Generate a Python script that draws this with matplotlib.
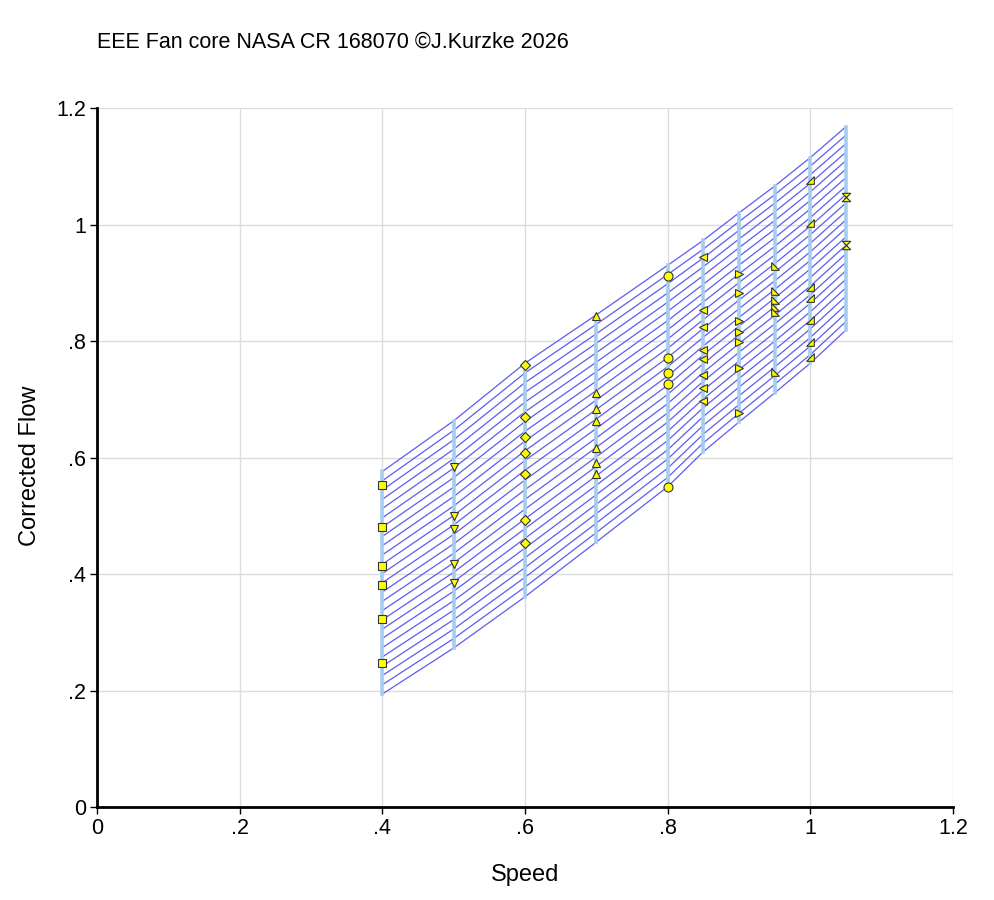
import matplotlib.pyplot as plt
import numpy as np

plt.rcParams['font.family'] = ['Liberation Sans', 'DejaVu Sans']

# speed lines of the map, flow at the lowest and highest beta line
speeds = [0.4, 0.5, 0.6, 0.7, 0.8, 0.85, 0.9, 0.95, 1.0, 1.05]
flow_top = [0.576, 0.663, 0.762, 0.845, 0.930, 0.973, 1.020, 1.066, 1.115, 1.168]
flow_bottom = [0.194, 0.273, 0.361, 0.455, 0.550, 0.610, 0.661, 0.711, 0.762, 0.819]

# beta values of the map grid
beta = [0.0, 0.04167, 0.08333, 0.125, 0.16667, 0.20833, 0.25, 0.29167, 0.33333,
        0.375, 0.41667, 0.45833, 0.5, 0.54167, 0.58333, 0.625, 0.66667, 0.70833,
        0.75, 0.79167, 0.83333, 0.875, 0.91667, 0.95833, 1.0]

# measured points per speed
meas_flow = {
    0.4: [0.552, 0.481, 0.414, 0.382, 0.322, 0.248],
    0.5: [0.584, 0.500, 0.478, 0.418, 0.385],
    0.6: [0.758, 0.669, 0.635, 0.607, 0.572, 0.492, 0.454],
    0.7: [0.843, 0.710, 0.683, 0.662, 0.616, 0.591, 0.572],
    0.8: [0.912, 0.770, 0.745, 0.727, 0.550],
    0.85: [0.944, 0.854, 0.824, 0.785, 0.769, 0.741, 0.719, 0.697],
    0.9: [0.915, 0.883, 0.834, 0.815, 0.798, 0.753, 0.677],
    0.95: [0.929, 0.885, 0.870, 0.859, 0.850, 0.746],
    1.0: [1.077, 1.002, 0.893, 0.873, 0.836, 0.798, 0.773],
    1.05: [1.048, 0.965],
}

markers = {
    0.4: 's', 0.5: 'v', 0.6: 'D', 0.7: '^', 0.8: 'o', 0.85: '<', 0.9: '>',
    0.95: [(-1, 1), (-1, -1), (1, -1), (-1, 1)],
    1.0: [(1, 1), (1, -1), (-1, -1), (1, 1)],
    1.05: [(-1, 1), (1, 1), (-1, -1), (1, -1), (-1, 1)],
}
msizes = {0.4: 5.5, 0.5: 5.5, 0.6: 5.5, 0.7: 5.5, 0.8: 6.5, 0.85: 5.5, 0.9: 5.5,
          0.95: 5.5, 1.0: 5.5, 1.05: 6}

fig = plt.figure(figsize=(9.94, 9.0), dpi=100)
ax = fig.add_axes([0.0976, 0.1033, 0.8612, 0.7767])

top = np.array(flow_top)
bot = np.array(flow_bottom)
for b in beta:
    ax.plot(speeds, bot + b * (top - bot), color='#5c5cf0', lw=0.9, zorder=2)

for s, lo, hi in zip(speeds, flow_bottom, flow_top):
    ax.plot([s, s], [lo, hi], color='#a6cdf0', lw=2.6, zorder=3)

for s in speeds:
    f = meas_flow[s]
    ax.plot([s] * len(f), f, linestyle='none', marker=markers[s], ms=msizes[s],
            mfc='#ffff00', mec='#333333', mew=0.8, zorder=4)

ax.set_xlim(0, 1.2)
ax.set_ylim(0, 1.2)
ticks = [0, 0.2, 0.4, 0.6, 0.8, 1.0, 1.2]
tick_labels = ['0', '.2', '.4', '.6', '.8', '1', '1.2']
ax.set_xticks(ticks)
ax.set_xticklabels(tick_labels)
ax.set_yticks(ticks)
ax.set_yticklabels(tick_labels)
ax.grid(True, color='#dcdcdc', lw=1)
ax.set_axisbelow(True)
ax.spines['top'].set_visible(False)
ax.spines['right'].set_visible(False)
ax.spines['left'].set_linewidth(2)
ax.spines['bottom'].set_linewidth(2)
ax.tick_params(labelsize=15.5, length=5, width=1, pad=3)

ax.set_xlabel('Speed', fontsize=17)
ax.xaxis.set_label_coords(0.5, -0.082)
ax.set_ylabel('Corrected Flow', fontsize=17)
ax.yaxis.set_label_coords(-0.065, 0.488)
fig.text(0.0976, 0.953, 'EEE Fan core NASA CR 168070 \u00a9J.Kurzke 2026',
         fontsize=15.5, va='center', ha='left')

fig.savefig('out.png', dpi=100)
